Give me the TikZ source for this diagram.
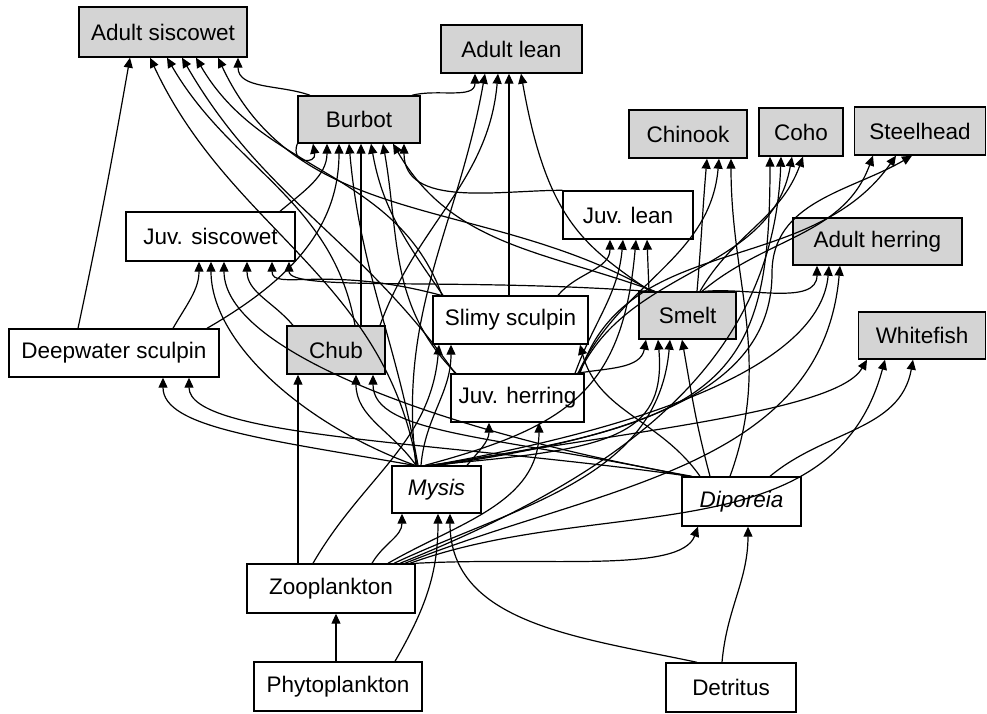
\documentclass[tikz,border=0pt]{standalone}
\usepackage{fontspec}
\setmainfont{Liberation Sans}
\usetikzlibrary{arrows.meta}
\begin{document}
\begin{tikzpicture}[x=1pt,y=1pt,
  box/.style={draw, line width=1.4pt, inner sep=0pt, font=\fontsize{22.5}{27}\selectfont},
  gbox/.style={box, fill=black!17},
  lnk/.style={line width=1.2pt, -{Triangle[length=10pt,width=9pt]}}]
\fill[white] (0,0) rectangle (987,713);
\useasboundingbox (0,0) rectangle (987,713);
% nodes
\node[gbox, minimum width=168pt, minimum height=50pt] (AS) at (163,681) {Adult siscowet};
\node[gbox, minimum width=141pt, minimum height=48pt] (AL) at (511.5,664) {Adult lean};
\node[gbox, minimum width=122pt, minimum height=47pt] (BU) at (359,593.5) {Burbot};
\node[gbox, minimum width=118pt, minimum height=48pt] (CH) at (688,579) {Chinook};
\node[gbox, minimum width=84pt, minimum height=48pt] (CO) at (801,581) {Coho};
\node[gbox, minimum width=131pt, minimum height=48pt] (ST) at (920,582) {Steelhead};
\node[box, minimum width=130pt, minimum height=48pt] (JL) at (628,498) {Juv. lean};
\node[gbox, minimum width=169pt, minimum height=47pt] (AH) at (877.5,471.5) {Adult herring};
\node[box, minimum width=169pt, minimum height=49pt] (JS) at (210.5,476.5) {Juv. siscowet};
\node[box, minimum width=155pt, minimum height=48pt] (SS) at (510.5,393) {Slimy sculpin};
\node[gbox, minimum width=97pt, minimum height=47pt] (SM) at (687.5,397.5) {Smelt};
\node[gbox, minimum width=127pt, minimum height=47pt] (WF) at (922,377.5) {Whitefish};
\node[box, minimum width=210pt, minimum height=48pt] (DS) at (114,360) {Deepwater sculpin};
\node[gbox, minimum width=98pt, minimum height=48pt] (CB) at (336,363) {Chub};
\node[box, minimum width=133pt, minimum height=48pt] (JH) at (517.5,315) {Juv. herring};
\node[box, minimum width=89pt, minimum height=47pt] (MY) at (436.5,223.5) {\itshape Mysis};
\node[box, minimum width=119pt, minimum height=49pt] (DI) at (741.5,211.5) {\itshape Diporeia};
\node[box, minimum width=168pt, minimum height=49pt] (ZO) at (331,124.5) {Zooplankton};
\node[box, minimum width=168pt, minimum height=49pt] (PH) at (338,26.5) {Phytoplankton};
\node[box, minimum width=130pt, minimum height=49pt] (DE) at (731,25.5) {Detritus};
\coordinate (w1) at (772,440);
% producers
\draw[lnk] (PH.north -| 336,0) -- (ZO.south -| 336,0);
\draw[lnk] (PH.north -| 395,0) to[out=60,in=-90] (MY.south -| 438,0);
\draw[lnk] (DE.north -| 697,0) to[out=168,in=-90,out distance=120pt,in distance=110pt] (MY.south -| 450,0);
\draw[lnk] (DE.north -| 722,0) to[out=85,in=-90] (DI.south -| 748,0);
% zooplankton
\draw[lnk] (ZO.north -| 298,0) -- (CB.south -| 298,0);
\draw[lnk] (ZO.north -| 313,0) to[out=60,in=-95] (SS.south -| 439,0);
\draw[lnk] (ZO.north -| 372,0) to[out=60,in=-90] (MY.south -| 402,0);
\draw[lnk] (ZO.north east) to[out=3,in=-110,out distance=130pt,in distance=50pt] (DI.south -| 698,0);
\draw[lnk] (ZO.north -| 388,0) to[out=30,in=-90] (JH.south -| 539,0);
\draw[lnk] (ZO.north -| 394,0) to[out=25,in=-95] (SM.south -| 670,0);
\draw[lnk] (ZO.north -| 400,0) to[out=22,in=-92] (CO.south -| 781,0);
\draw[lnk] (ZO.north -| 405,0) to[out=22,in=-95] (AH.south -| 840,0);
\draw[lnk] (ZO.north -| 410,0) to[out=20,in=-105] (WF.south -| 885,0);
% mysis
\draw[lnk] (MY.north -| 414,0) to[out=170,in=-90,out distance=150pt,in distance=50pt] (DS.south -| 163,0);
\draw[lnk] (MY.north -| 415,0) to[out=160,in=-90,out distance=120pt,in distance=80pt] (JS.south -| 211,0);
\draw[lnk] (MY.north -| 416,0) to[out=125,in=-90] (CB.south -| 356,0);
\draw[lnk] (MY.north -| 417,0) to[out=100,in=-65] (AS.south -| 150,0);
\draw[lnk] (MY.north -| 418,0) to[out=100,in=-85] (BU.south -| 349,0);
\draw[lnk] (MY.north -| 416,0) to[out=97,in=-100] (AL.south -| 485,0);
\draw[lnk] (MY.north -| 421,0) to[out=85,in=-90] (SS.south -| 451,0);
\draw[lnk] (MY.north -| 467,0) to[out=50,in=-90] (JH.south -| 489,0);
\draw[lnk] (MY.north -| 425,0) to[out=15,in=-95,out distance=150pt,in distance=150pt] (JL.south -| 636,0);
\draw[lnk] (MY.north -| 428,0) to[out=5,in=-85,out distance=180pt,in distance=100pt] (SM.south -| 658,0);
\draw[lnk] (MY.north -| 430,0) to[out=8,in=-90,out distance=300pt,in distance=220pt] (CO.south -| 770,0);
\draw[lnk] (MY.north -| 432,0) to[out=10,in=-95,out distance=220pt,in distance=100pt] (AH.south -| 829,0);
\draw[lnk] (MY.north -| 435,0) to[out=10,in=-120,out distance=200pt,in distance=60pt] (WF.south -| 867,0);
\draw[lnk] (MY.north -| 438,0) to[out=8,in=-90,out distance=220pt,in distance=110pt] (w1) to[out=90,in=-150] (ST.south -| 912,0);
% diporeia
\draw[lnk] (DI.north -| 690,0) to[out=172,in=-90,out distance=250pt,in distance=60pt] (DS.south -| 189,0);
\draw[lnk] (DI.north -| 692,0) to[out=170,in=-90,out distance=250pt,in distance=90pt] (JS.south -| 224,0);
\draw[lnk] (DI.north -| 688,0) to[out=168,in=-90,out distance=200pt,in distance=60pt] (CB.south -| 373,0);
\draw[lnk] (DI.north -| 700,0) to[out=125,in=-75] (SS.south -| 580,0);
\draw[lnk] (DI.north -| 710,0) to[out=105,in=-80] (SM.south -| 682,0);
\draw[lnk] (DI.north -| 730,0) to[out=70,in=-90,in distance=125pt] (CH.south -| 731,0);
\draw[lnk] (DI.north -| 770,0) to[out=40,in=-100] (WF.south -| 913,0);
% juvenile herring
\draw[lnk] (JH.north -| 455,0) to[out=125,in=-60] (AS.south -| 182,0);
\draw[lnk] (JH.north -| 456,0) to[out=135,in=-80] (BU.south -| 383,0);
\draw[lnk] (JH.north -| 577,0) to[out=10,in=-100] (SM.south -| 646,0);
\draw[lnk] (JH.north -| 575,0) to[out=70,in=-95] (JL.south -| 623,0);
\draw[lnk] (JH.north -| 578,0) to[out=65,in=-95] (CH.south -| 719,0);
\draw[lnk] (JH.north -| 579,0) to[out=65,in=-100] (CO.south -| 792,0);
\draw[lnk] (JH.north -| 580,0) to[out=72,in=-125] (ST.south -| 896,0);
% slimy sculpin
\draw[lnk] (SS.north -| 442,0) to[out=110,in=-60] (AS.south -| 196,0);
\draw[lnk] (SS.north -| 443,0) to[out=125,in=-80] (BU.south -| 371,0);
\draw[lnk] (SS.north -| 441,0) to[out=165,in=-90,out distance=120pt,in distance=30pt] (JS.south -| 272,0);
\draw[lnk] (SS.north -| 509,0) -- (AL.south -| 509,0);
\draw[lnk] (SS.north -| 558,0) to[out=50,in=-90] (JL.south -| 610,0);
% smelt
\draw[lnk] (SM.north -| 652,0) to[out=150,in=-65] (AS.south -| 218,0);
\draw[lnk] (SM.north -| 655,0) to[out=160,in=-60] (BU.south -| 393,0);
\draw[lnk] (SM.north -| 648,0) to[out=176,in=-90,out distance=200pt,in distance=30pt] (JS.south -| 289,0);
\draw[lnk] (SM.north -| 650,0) to[out=145,in=-80,out distance=80pt,in distance=150pt] (AL.south -| 521,0);
\draw[lnk] (SM.north -| 649,0) -- (JL.south -| 647,0);
\draw[lnk] (SM.north -| 697,0) to[out=85,in=-95] (CH.south -| 707,0);
\draw[lnk] (SM.north -| 700,0) to[out=60,in=-110] (CO.south -| 803,0);
\draw[lnk] (SM.north -| 702,0) to[out=40,in=-110] (ST.south -| 873,0);
\draw[lnk] (SM.north -| 705,0) to[out=5,in=-90,in distance=40pt] (AH.south -| 817,0);
% chub
\draw[lnk] (CB.north -| 361,0) -- (BU.south -| 361,0);
\draw[lnk] (CB.north -| 355,0) to[out=100,in=-60] (AS.south -| 167,0);
\draw[lnk] (CB.north -| 293,0) to[out=130,in=-90] (JS.south -| 247,0);
\draw[lnk] (CB.north -| 380,0) to[out=70,in=-95] (AL.south -| 498,0);
% deepwater sculpin
\draw[lnk] (DS.north -| 78,0) to[out=78,in=-100] (AS.south -| 130,0);
\draw[lnk] (DS.north -| 173,0) to[out=60,in=-90] (JS.south -| 199,0);
\draw[lnk] (DS.north -| 207,0) to[out=30,in=-90] (BU.south -| 339,0);
% juvenile siscowet
\draw[lnk] (JS.north -| 280,0) to[out=40,in=-90] (BU.south -| 327,0);
% burbot
\draw[lnk] (BU.north -| 310,0) to[out=160,in=-90] (AS.south -| 238,0);
\draw[lnk] (BU.north -| 412,0) to[out=15,in=-90] (AL.south -| 475,0);
\draw[lnk] (BU.south west) to[out=-110,in=-80,looseness=3.5] (BU.south -| 313,0);
% juvenile lean
\draw[lnk] (JL.north west) to[out=180,in=-90] (BU.south -| 404,0);
\end{tikzpicture}
\end{document}
